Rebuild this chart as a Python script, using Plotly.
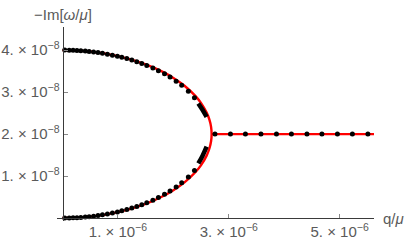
import plotly.graph_objects as go

# units: q in 1e-6 mu, -Im[omega/mu] in 1e-8
QS = 1e-6
YS = 1e-8

# red analytic curve (upper branch, vertex, lower branch back)
red_q = [0, 0.5, 1.0, 1.5, 1.8, 2.0, 2.2, 2.4, 2.5, 2.6, 2.65, 2.68, 2.69,
         2.68, 2.65, 2.6, 2.5, 2.4, 2.2, 2.0, 1.8, 1.5, 1.0, 0.5, 0]
red_val = [4.0, 3.965, 3.857, 3.66, 3.486, 3.337, 3.151, 2.903, 2.738, 2.513, 2.344, 2.172, 2.0,
           1.828, 1.656, 1.487, 1.262, 1.097, 0.849, 0.663, 0.514, 0.34, 0.143, 0.035, 0.0]
flat_red_q = [2.69, 5.62]
flat_red_val = [2.0, 2.0]

# black numerical points
dot_q = [0.04, 0.12, 0.19, 0.26, 0.33, 0.41, 0.48, 0.56, 0.64, 0.72, 0.81, 0.90, 0.99,
         1.07, 1.16, 1.25, 1.34, 1.43, 1.52, 1.63, 1.73, 1.84, 1.94, 2.05, 2.15, 2.27, 2.38]
dot_upper = [4.0, 3.998, 3.995, 3.99, 3.984, 3.976, 3.967, 3.955, 3.94, 3.924, 3.904, 3.88, 3.854,
             3.828, 3.797, 3.762, 3.723, 3.681, 3.635, 3.573, 3.511, 3.434, 3.357, 3.26, 3.161, 3.021, 2.865]
dot_lower = [0.0, 0.002, 0.005, 0.01, 0.016, 0.024, 0.033, 0.045, 0.06, 0.076, 0.096, 0.12, 0.146,
             0.172, 0.203, 0.238, 0.277, 0.319, 0.365, 0.427, 0.489, 0.566, 0.643, 0.74, 0.839, 0.979, 1.135]
dash_q = [2.45, 2.525, 2.60]
dash_upper = [2.73, 2.58, 2.41]
dash_lower = [1.30, 1.48, 1.70]
flat_dot_q = [2.75, 3.03, 3.30, 3.58, 3.86, 4.13, 4.41, 4.68, 4.96, 5.23, 5.51]
flat_dot_val = [2.0] * len(flat_dot_q)

x_ticks = [1, 3, 5]
x_tick_text = ["1. × 10<sup>−6</sup>", "3. × 10<sup>−6</sup>", "5. × 10<sup>−6</sup>"]
y_ticks = [1, 2, 3, 4]
y_tick_text = ["1. × 10<sup>−8</sup>", "2. × 10<sup>−8</sup>", "3. × 10<sup>−8</sup>", "4. × 10<sup>−8</sup>"]

X_RANGE = [-0.1, 5.62]
Y_RANGE = [-0.07, 4.55]

sx = lambda a: [v * QS for v in a]
sy = lambda a: [v * YS for v in a]

RED = "#ff0000"
fig = go.Figure()
fig.add_trace(go.Scatter(x=sx(red_q), y=sy(red_val), mode="lines",
                         line=dict(color=RED, width=2.4, shape="spline", smoothing=1.0)))
fig.add_trace(go.Scatter(x=sx(flat_red_q), y=sy(flat_red_val), mode="lines",
                         line=dict(color=RED, width=2.4)))
for vals in (dash_upper, dash_lower):
    fig.add_trace(go.Scatter(x=sx(dash_q), y=sy(vals), mode="lines",
                             line=dict(color="black", width=4.5, shape="spline")))
for vals, qs in ((dot_upper, dot_q), (dot_lower, dot_q), (flat_dot_val, flat_dot_q)):
    fig.add_trace(go.Scatter(x=sx(qs), y=sy(vals), mode="markers", cliponaxis=False,
                             marker=dict(color="black", size=5, line=dict(width=0))))

FONT = dict(family="Liberation Sans, Arial, sans-serif", size=15, color="#5a5a5a")
AX = "#3a3a3a"
xpos = (0 - Y_RANGE[0]) / (Y_RANGE[1] - Y_RANGE[0])
ypos = (0 - X_RANGE[0]) / (X_RANGE[1] - X_RANGE[0])

fig.update_layout(
    width=407, height=242,
    margin=dict(l=57, r=33, t=27, b=21),
    paper_bgcolor="white", plot_bgcolor="white",
    showlegend=False,
    font=FONT,
    xaxis=dict(range=sx(X_RANGE), anchor="free", position=xpos, automargin=False,
               showline=True, linecolor=AX, linewidth=1,
               showgrid=False, zeroline=False,
               tickvals=sx(x_ticks), ticktext=x_tick_text,
               ticks="inside", ticklen=4, tickcolor="#888888", tickfont=FONT),
    yaxis=dict(range=sy(Y_RANGE), anchor="free", position=ypos, automargin=False,
               showline=True, linecolor=AX, linewidth=1,
               showgrid=False, zeroline=False,
               tickvals=sy(y_ticks), ticktext=y_tick_text,
               ticks="inside", ticklen=4, tickcolor="#888888", tickfont=FONT),
    annotations=[
        dict(text="−Im[<i>ω</i>/<i>μ</i>]", xref="paper", yref="paper",
             x=ypos, y=1, xanchor="center", yanchor="bottom", yshift=2,
             showarrow=False, font=FONT),
        dict(text="q/<i>μ</i>", xref="paper", yref="paper",
             x=1, y=xpos, xanchor="left", yanchor="middle", xshift=7,
             showarrow=False, font=FONT),
    ],
)

fig.write_html("out.html", config={"displayModeBar": False},
               post_script="document.body.style.margin='0';")
